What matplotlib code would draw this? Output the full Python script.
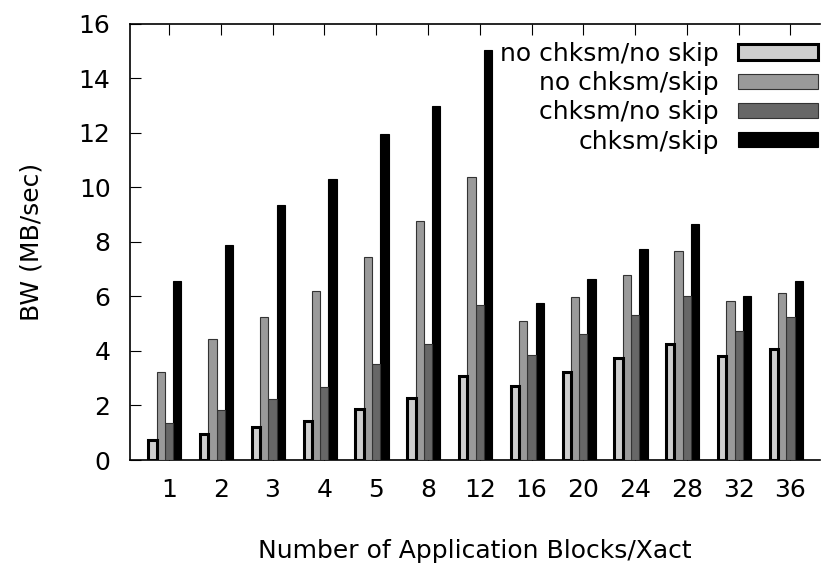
import numpy as np
import matplotlib.pyplot as plt

plt.rcParams['font.family'] = ['DejaVu Sans']

groups = ['1', '2', '3', '4', '5', '8', '12', '16', '20', '24', '28', '32', '36']
series = ['no chksm/no skip', 'no chksm/skip', 'chksm/no skip', 'chksm/skip']
nock_noskip = [0.72, 0.97, 1.2, 1.42, 1.86, 2.26, 3.09, 2.71, 3.22, 3.73, 4.26, 3.81, 4.08]
nock_skip = [3.22, 4.45, 5.25, 6.2, 7.44, 8.77, 10.39, 5.1, 5.97, 6.79, 7.66, 5.84, 6.14]
ck_noskip = [1.37, 1.82, 2.25, 2.68, 3.51, 4.25, 5.7, 3.87, 4.61, 5.33, 6.03, 4.75, 5.24]
ck_skip = [6.56, 7.88, 9.36, 10.3, 11.95, 12.98, 15.06, 5.75, 6.63, 7.76, 8.65, 6.0, 6.56]

data = [nock_noskip, nock_skip, ck_noskip, ck_skip]
fills = ['#cecece', '#9a9a9a', '#676767', '#000000']
edges = ['#000000', '#333333', '#333333', '#000000']
lws = [2.2, 0.8, 0.8, 0.8]
fs = 18

fig = plt.figure(figsize=(8.21, 5.75), dpi=100)
ax = fig.add_axes([0.1583, 0.2, 0.8405, 0.7583])

x = np.arange(len(groups))
w = 0.16
for j in range(4):
    ax.bar(x - 0.08 + (j - 1.5) * w, data[j], w, color=fills[j],
           edgecolor=edges[j], linewidth=lws[j], label=series[j], zorder=3 - j * 0.1)

ax.set_xlim(-0.753, 12.57)
ax.set_ylim(0, 16)
ax.set_yticks(range(0, 17, 2))
ax.set_xticks(x)
ax.set_xticklabels(groups)
ax.tick_params(axis='x', direction='in', length=8, top=True, bottom=True, labelsize=fs, pad=13)
ax.tick_params(axis='y', direction='in', length=8, right=False, labelsize=fs, pad=14)
ax.spines['right'].set_visible(False)
for s in ax.spines.values():
    s.set_linewidth(1.2)

ax.set_ylabel('BW (MB/sec)', fontsize=fs, labelpad=25.5)
ax.set_xlabel('Number of Application Blocks/Xact', fontsize=fs, labelpad=26.5)

leg = ax.legend(loc='upper right', bbox_to_anchor=(1.011, 0.982), frameon=False,
                markerfirst=False, fontsize=fs, handlelength=3.2, handleheight=0.55,
                handletextpad=0.75, labelspacing=0.21, borderaxespad=0)

fig.savefig('out.png', dpi=100)
